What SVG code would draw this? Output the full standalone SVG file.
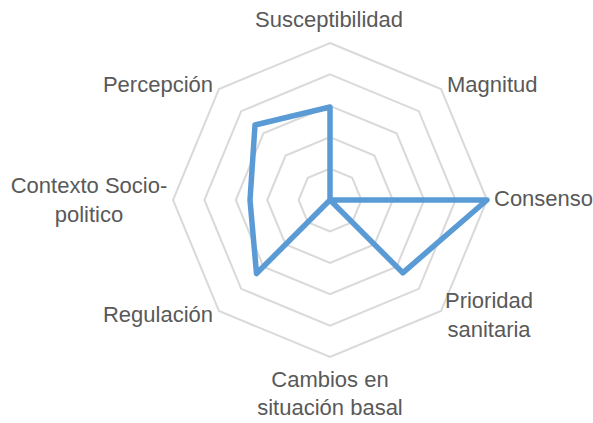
<svg xmlns="http://www.w3.org/2000/svg" width="593" height="423" viewBox="0 0 593 423">
<style>
.ring{fill:none;stroke:#d9d9d9;stroke-width:2}
.series{fill:none;stroke:#5b9bd5;stroke-width:5.5;stroke-linejoin:round}
.lbl{font-family:"Liberation Sans",Arial,sans-serif;font-size:22px;fill:#595959}
</style>
<rect width="593" height="423" fill="#ffffff"/>
<g id="grid">
<polygon class="ring" points="330,168.6 352.2,177.8 361.4,200 352.2,222.2 330,231.4 307.8,222.2 298.6,200 307.8,177.8"/>
<polygon class="ring" points="330,137.2 374.41,155.59 392.8,200 374.41,244.41 330,262.8 285.59,244.41 267.2,200 285.59,155.59"/>
<polygon class="ring" points="330,105.8 396.61,133.39 424.2,200 396.61,266.61 330,294.2 263.39,266.61 235.8,200 263.39,133.39"/>
<polygon class="ring" points="330,74.4 418.81,111.19 455.6,200 418.81,288.81 330,325.6 241.19,288.81 204.4,200 241.19,111.19"/>
<polygon class="ring" points="330,43 441.02,88.98 487,200 441.02,311.02 330,357 218.98,311.02 173,200 218.98,88.98"/>
</g>
<g id="connectors">
<polygon class="series" points="330,107 330,200 487,200 402.8,272.8 330,200 256.5,273.5 250,200 255,125"/>
</g>
<g id="labels">
<g id="n-susceptibilidad"><text class="lbl" x="329" y="27" text-anchor="middle">Susceptibilidad</text></g>
<g id="n-magnitud"><text class="lbl" x="447" y="92">Magnitud</text></g>
<g id="n-consenso"><text class="lbl" x="494" y="206">Consenso</text></g>
<g id="n-prioridad"><text class="lbl" x="489" y="308" text-anchor="middle">Prioridad</text><text class="lbl" x="489" y="337" text-anchor="middle">sanitaria</text></g>
<g id="n-cambios"><text class="lbl" x="330" y="387" text-anchor="middle">Cambios en</text><text class="lbl" x="330" y="415" text-anchor="middle">situación basal</text></g>
<g id="n-regulacion"><text class="lbl" x="213" y="322" text-anchor="end">Regulación</text></g>
<g id="n-contexto"><text class="lbl" x="89" y="193" text-anchor="middle">Contexto Socio-</text><text class="lbl" x="89" y="222" text-anchor="middle">politico</text></g>
<g id="n-percepcion"><text class="lbl" x="213" y="92" text-anchor="end">Percepción</text></g>
</g>
</svg>
